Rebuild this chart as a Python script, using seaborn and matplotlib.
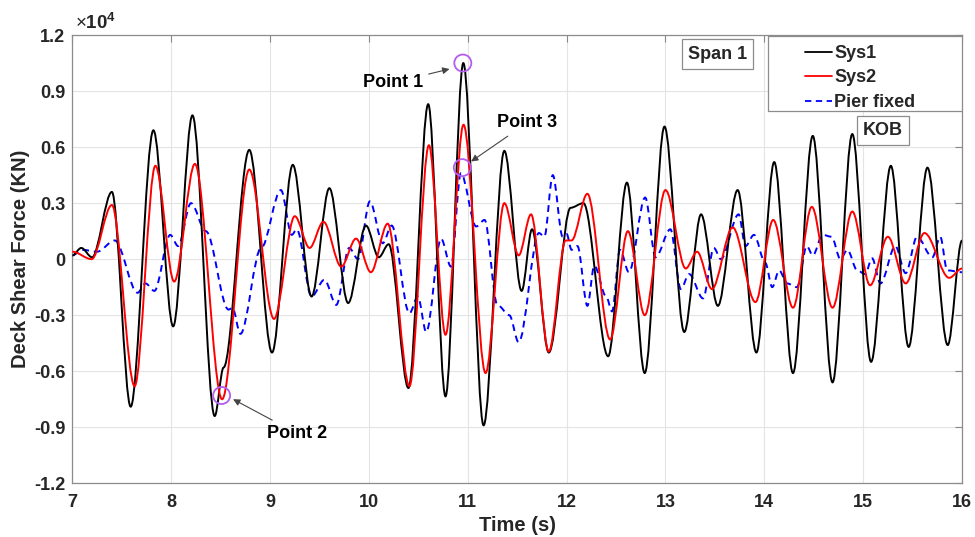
import numpy as np
import pandas as pd
import matplotlib
matplotlib.use("Agg")
import matplotlib.pyplot as plt
from matplotlib.path import Path
from matplotlib.patches import PathPatch, Rectangle
from matplotlib.lines import Line2D
import seaborn as sns

# ---------------- data (force in units of 10^4 kN, turning points) ----------------
sys1_t = [7.00, 7.09, 7.20, 7.40, 7.59, 7.82, 8.02, 8.215, 8.44, 8.53, 8.79, 9.02, 9.23,
          9.42, 9.60, 9.79, 9.97, 10.10, 10.20, 10.40, 10.60, 10.775, 10.955, 11.16, 11.37,
          11.545, 11.65, 11.82, 12.04, 12.17, 12.42, 12.61, 12.79, 12.99, 13.19,
          13.36, 13.53, 13.73, 13.92, 14.10, 14.29, 14.49, 14.69, 14.89, 15.08, 15.28, 15.46,
          15.65, 15.855, 16.00]
sys1_v = [0.02, 0.06, 0.01, 0.36, -0.79, 0.69, -0.36, 0.77, -0.84, -0.58, 0.585, -0.50, 0.505,
          -0.20, 0.38, -0.235, 0.18, 0.01, 0.08, -0.69, 0.83, -0.735, 1.05, -0.89, 0.58,
          -0.17, 0.16, -0.50, 0.275, 0.30, -0.52, 0.41, -0.61, 0.71, -0.39,
          0.24, -0.25, 0.37, -0.50, 0.52, -0.61, 0.66, -0.66, 0.67, -0.55, 0.50, -0.47,
          0.49, -0.46, 0.10]

sys2_t = [7.00, 7.195, 7.40, 7.63, 7.84, 8.03, 8.24, 8.515, 8.79, 9.04, 9.25, 9.40, 9.54, 9.72,
          9.87, 10.02, 10.19, 10.41, 10.607, 10.775, 10.957, 11.18, 11.37, 11.515, 11.64, 11.82,
          11.99, 12.05, 12.21, 12.44, 12.62, 12.79, 13.00, 13.205, 13.32, 13.47, 13.68, 13.91,
          14.09, 14.29, 14.48, 14.69, 14.89, 15.07, 15.25, 15.43, 15.62, 15.87, 16.00]
sys2_v = [0.04, 0.00, 0.29, -0.68, 0.50, -0.12, 0.51, -0.75, 0.48, -0.32, 0.23, 0.06, 0.20, -0.04,
          0.11, -0.07, 0.19, -0.68, 0.61, -0.405, 0.72, -0.61, 0.30, 0.02, 0.24, -0.495,
          0.10, 0.10, 0.35, -0.43, 0.15, -0.30, 0.37, -0.05, 0.04, -0.16, 0.17, -0.23,
          0.21, -0.26, 0.28, -0.26, 0.255, -0.14, 0.12, -0.13, 0.14, -0.10, -0.05]

pier_t = [7.00, 7.10, 7.25, 7.43, 7.66, 7.74, 7.83, 7.99, 8.07, 8.20, 8.35, 8.58, 8.62, 8.70,
          8.91, 9.11, 9.22, 9.27, 9.42, 9.55, 9.67, 9.80, 9.89, 10.01, 10.14, 10.23, 10.41,
          10.495, 10.58, 10.73, 10.83, 10.93, 11.085, 11.17, 11.30, 11.42, 11.515, 11.72,
          11.775, 11.86, 11.96, 12.00, 12.05, 12.11, 12.21, 12.28, 12.40, 12.46, 12.54, 12.63,
          12.795, 12.90, 13.05, 13.155, 13.24, 13.38, 13.49, 13.56, 13.74, 13.81, 13.895, 14.01,
          14.08, 14.15, 14.23, 14.33, 14.43, 14.49, 14.59, 14.68, 14.77, 14.84, 14.94, 15.02,
          15.09, 15.175, 15.325, 15.43, 15.545, 15.70, 15.78, 15.85, 16.00]
pier_v = [0.02, 0.05, 0.04, 0.10, -0.18, -0.13, -0.17, 0.13, 0.07, 0.30, 0.15, -0.27, -0.26, -0.40,
          0.06, 0.37, 0.13, 0.16, -0.20, -0.11, -0.245, 0.06, 0.00, 0.31, 0.085, 0.18, -0.29,
          -0.20, -0.39, 0.11, -0.04, 0.46, 0.175, 0.21, -0.245, -0.30, -0.445, 0.14,
          0.12, 0.45, 0.12, 0.135, 0.05, 0.07, -0.25, -0.035, -0.20, -0.28, 0.05, -0.07,
          0.33, 0.01, 0.16, -0.16, -0.08, -0.21, 0.06, 0.00, 0.24, 0.07, 0.13, -0.02,
          -0.15, -0.06, -0.13, -0.15, 0.07, 0.02, 0.13, 0.12, 0.00, 0.05, -0.06, -0.08,
          0.005, -0.13, 0.07, -0.075, 0.12, 0.01, 0.12, -0.06, -0.07]

series_names = ["Sys1", "Sys2", "Pier fixed"]
series_colors = ["#000000", "#ff0000", "#0000ff"]

point_labels = ["Point 1", "Point 2", "Point 3"]
point_t = [10.95, 8.51, 10.945]
point_v = [1.05, -0.73, 0.49]
label_t = [10.24, 9.27, 11.60]
label_v = [0.944, -0.932, 0.73]
arrow_t = [10.815, 8.626, 11.034]
arrow_v = [1.018, -0.750, 0.523]

x_ticks = list(range(7, 17))
y_ticks = [-1.2, -0.9, -0.6, -0.3, 0, 0.3, 0.6, 0.9, 1.2]
y_tick_labels = ["-1.2", "-0.9", "-0.6", "-0.3", "0", "0.3", "0.6", "0.9", "1.2"]

# ---------------- tables ----------------
df = pd.concat([
    pd.DataFrame({"t": sys1_t, "v": sys1_v, "Series": "Sys1"}),
    pd.DataFrame({"t": sys2_t, "v": sys2_v, "Series": "Sys2"}),
    pd.DataFrame({"t": pier_t, "v": pier_v, "Series": "Pier fixed"}),
], ignore_index=True)

sns.set_theme(style="whitegrid")
plt.rcParams["font.family"] = ["Liberation Sans", "DejaVu Sans"]
plt.rcParams["mathtext.fontset"] = "custom"
plt.rcParams["mathtext.rm"] = "Liberation Sans"
plt.rcParams["mathtext.bf"] = "Liberation Sans:bold"

fig = plt.figure(figsize=(9.75, 5.37), dpi=100)
fig.patch.set_facecolor("white")
ax = fig.add_axes([0.0742, 0.100, 0.9125, 0.8348])
ax.set_facecolor("white")


def smooth_path(ts, vs):
    """Bezier path through the turning points (flat tangent at each), drawn by matplotlib."""
    verts = [(ts[0], vs[0])]
    codes = [Path.MOVETO]
    for i in range(len(ts) - 1):
        d = ts[i + 1] - ts[i]
        verts += [(ts[i] + d / 3.0, vs[i]), (ts[i + 1] - d / 3.0, vs[i + 1]), (ts[i + 1], vs[i + 1])]
        codes += [Path.CURVE4] * 3
    return Path(verts, codes)


styles = {"Sys1": "-", "Sys2": "-", "Pier fixed": (0, (3.5, 2.5))}
palette = dict(zip(series_names, series_colors))
zorders = {"Sys1": 3, "Sys2": 4, "Pier fixed": 2}
for name, grp in df.groupby("Series", sort=False):
    patch = PathPatch(smooth_path(grp["t"].tolist(), grp["v"].tolist()), fill=False,
                      edgecolor=palette[name], lw=1.4, linestyle=styles[name],
                      transform=ax.transData, zorder=zorders[name], joinstyle="round")
    ax.add_patch(patch)

# marked points
sns.scatterplot(x=point_t, y=point_v, ax=ax, s=150, marker="o",
                facecolors="none", edgecolors="#b45cf0", linewidths=1.3, legend=False, zorder=5)

for lab, lt, lv, at, av in zip(point_labels, label_t, label_v, arrow_t, arrow_v):
    ax.annotate(lab, xy=(at, av), xytext=(lt, lv), ha="center", va="center",
                fontsize=13, fontweight="bold", color="black",
                arrowprops=dict(arrowstyle="-|>", color="#444444", lw=0.8,
                                mutation_scale=10, shrinkA=2, shrinkB=0))

# axes formatting
ax.set_xlim(7, 16)
ax.set_ylim(-1.2, 1.2)
ax.set_xticks(x_ticks)
ax.set_xticklabels([str(x) for x in x_ticks])
ax.set_yticks(y_ticks)
ax.set_yticklabels(y_tick_labels)
for lab in ax.get_xticklabels() + ax.get_yticklabels():
    lab.set_fontweight("bold")
    lab.set_fontsize(13)
    lab.set_color("#262626")
ax.tick_params(axis="both", which="both", direction="in", length=5, width=0.8,
               color="#888888", top=True, right=True)
ax.tick_params(axis="x", pad=8)
ax.tick_params(axis="y", pad=5)
ax.grid(True, color="#e4e4e4", linewidth=0.8)
ax.set_axisbelow(True)
for sp in ax.spines.values():
    sp.set_color("#8c8c8c")
    sp.set_linewidth(0.9)

ax.set_xlabel("Time (s)", fontsize=14.5, fontweight="bold", color="#262626", labelpad=3)
ax.set_ylabel("Deck Shear Force (KN)", fontsize=14.5, fontweight="bold", color="#262626", labelpad=3)

ax.text(0.003, 1.004, r"$\times\mathbf{10^{4}}$", transform=ax.transAxes,
        fontsize=13.5, ha="left", va="bottom", color="#262626")

# legend (frame drawn as a separate box to mimic the wide MATLAB legend)
handles = [Line2D([], [], color=palette[n], lw=1.3, linestyle=styles[n]) for n in series_names]
leg = ax.legend(handles, series_names, loc="upper left", bbox_to_anchor=(0.823, 0.978),
                borderaxespad=0.0, frameon=False, handlelength=1.5, handletextpad=0.15,
                labelspacing=0.42, borderpad=0.0,
                prop={"weight": "bold", "size": 13})
ax.add_patch(Rectangle((0.782, 0.830), 0.218, 0.168, transform=ax.transAxes, fill=True,
                       facecolor="white", edgecolor="#8c8c8c", lw=0.9, zorder=7))
leg.set_zorder(8)

# text boxes
box = dict(boxstyle="square,pad=0.35", fc="white", ec="#8c8c8c", lw=0.9)
ax.text(13.527, 1.097, "Span 1", ha="center", va="center", fontsize=13,
        fontweight="bold", bbox=box, zorder=6)
ax.text(15.199, 0.689, "KOB", ha="center", va="center", fontsize=13,
        fontweight="bold", bbox=box, zorder=6)

fig.savefig("out.png", dpi=100, facecolor="white")
